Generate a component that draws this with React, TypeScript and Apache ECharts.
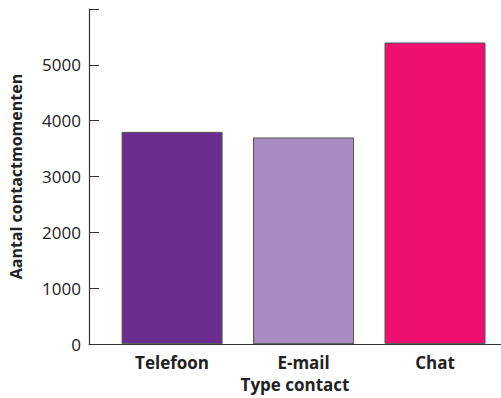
import React, { useEffect, useRef } from "react";
import * as echarts from "echarts";

const categories = ["Telefoon", "E-mail", "Chat"];
const values = [3800, 3700, 5400];
const colors = ["#6a2c8e", "#a78bc2", "#ef0f6f"];
const positions = [0, 1, 2];

export default function App() {
  const ref = useRef<HTMLDivElement>(null);
  useEffect(() => {
    document.body.style.margin = "0";
    const chart = echarts.init(ref.current!, null, { renderer: "svg" });
    const font = "'Open Sans', 'Noto Sans', sans-serif";
    chart.setOption({
      animation: false,
      grid: { left: 86, right: 0, top: 9, bottom: 50 },
      xAxis: {
        type: "value",
        min: -0.632,
        max: 2.502,
        axisLine: { show: true, onZero: false, lineStyle: { color: "#333", width: 1.2 } },
        axisTick: { show: false },
        splitLine: { show: false },
        axisLabel: {
          customValues: positions,
          formatter: (v: number) => categories[Math.round(v)] ?? "",
          color: "#222",
          fontFamily: font,
          fontWeight: "bold",
          fontSize: 17,
          margin: 10,
        },
        name: "Type contact",
        nameLocation: "middle",
        nameGap: 31,
        nameTextStyle: { color: "#222", fontFamily: font, fontWeight: "bold", fontSize: 17 },
      },
      yAxis: {
        type: "value",
        min: 0,
        max: 6000,
        interval: 1000,
        axisLine: { show: true, onZero: false, lineStyle: { color: "#333", width: 1.2 } },
        axisTick: { show: true, inside: true, length: 10, lineStyle: { color: "#333" } },
        splitLine: { show: false },
        axisLabel: {
          formatter: (v: number) => (v === 6000 ? "" : String(v)),
          color: "#222",
          fontFamily: font,
          fontSize: 17,
          margin: 8,
        },
        name: "Aantal contactmomenten",
        nameLocation: "middle",
        nameGap: 65,
        nameTextStyle: { color: "#222", fontFamily: font, fontWeight: "bold", fontSize: 16 },
      },
      series: [
        {
          type: "bar",
          barWidth: 101,
          data: positions.map((p, i) => ({
            value: [p, values[i]],
            itemStyle: { color: colors[i], borderColor: "#555", borderWidth: 1 },
          })),
        },
      ],
    });
    return () => chart.dispose();
  }, []);
  return <div ref={ref} style={{ width: 501, height: 398 }} />;
}
